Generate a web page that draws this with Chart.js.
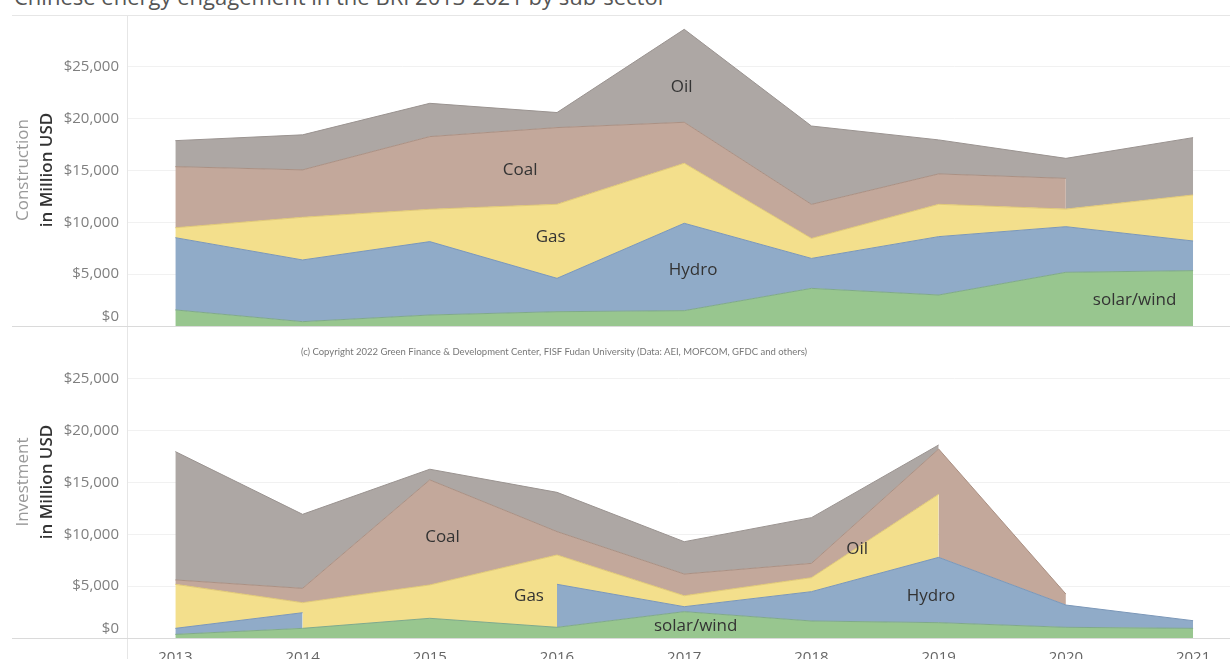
<!DOCTYPE html>
<html>
<head>
<meta charset="utf-8">
<script src="https://cdn.jsdelivr.net/npm/chart.js@4.4.1/dist/chart.umd.min.js"></script>
<style>
  body { margin: 0; width: 1230px; height: 659px; overflow: hidden; background: #fff; position: relative; font-family: "Open Sans", sans-serif; }
  canvas { position: absolute; left: 0; }
  #topChart { top: 0; }
  #botChart { top: 320px; }
  .title { position: absolute; left: 14px; top: -15px; font-size: 22px; line-height: 22px; color: #555; white-space: nowrap; }
  .rule { position: absolute; }
  .ytitle { position: absolute; left: -86px; width: 240px; height: 48px; transform: rotate(-90deg); text-align: center; line-height: 24px; }
  .ytitle .a { color: #999; font-size: 17px; display: block; }
  .ytitle .b { color: #333; font-size: 17px; font-weight: 600; display: block; }
  .copy { position: absolute; left: 0; width: 1108px; top: 346px; text-align: center; font-family: Lato, sans-serif; font-size: 9.5px; line-height: 12px; color: #777; }
</style>
</head>
<body>
<div class="title">Chinese energy engagement in the BRI 2013-2021 by sub-sector</div>

<canvas id="topChart" width="1230" height="340"></canvas>
<canvas id="botChart" width="1230" height="348"></canvas>

<!-- frame lines -->
<div class="rule" style="left:12px;top:15px;width:1218px;height:1px;background:#e6e6e6"></div>
<div class="rule" style="left:127px;top:15px;width:1px;height:644px;background:#e6e6e6"></div>
<div class="rule" style="left:12px;top:326px;width:1218px;height:1px;background:#dadada"></div>
<div class="rule" style="left:12px;top:638px;width:1218px;height:1px;background:#dadada"></div>

<div class="ytitle" style="top:146px"><span class="a">Construction</span><span class="b">in Million USD</span></div>
<div class="ytitle" style="top:458px"><span class="a">Investment</span><span class="b">in Million USD</span></div>

<div class="copy">(c) Copyright 2022 Green Finance &amp; Development Center, FISF Fudan University (Data: AEI, MOFCOM, GFDC and others)</div>

<script>
const years = [2013, 2014, 2015, 2016, 2017, 2018, 2019, 2020, 2021];
const sectors = ["solar/wind", "Hydro", "Gas", "Coal", "Oil"];

// Construction, million USD
const conSolar = [1550, 420, 1060, 1380, 1480, 3630, 2990, 5180, 5340];
const conHydro = [6970, 5950, 7080, 3220, 8430, 2890, 5630, 4400, 2860];
const conGas   = [960, 4120, 3120, 7140, 5790, 1930, 3120, 1700, 4440];
const conCoal  = [5890, 4570, 7010, 7400, 3950, 3280, 2930, 2960, null];
const conOil   = [2510, 3380, 3210, 1450, 8970, 7560, 3280, 1930, 5530];

// Investment, million USD
const invSolar = [350, 930, 1900, 1030, 2540, 1640, 1480, 1030, 930];
const invHydro = [580, 1510, null, 4150, 480, 2830, 6300, 2150, 740];
const invGas   = [4250, 970, 3220, 2830, 1060, 1350, 6080, null, null];
const invCoal  = [420, 1380, 10130, 2250, 2090, 1380, 4370, 1060, null];
const invOil   = [12380, 7140, 1030, 3790, 3120, 4410, 390, null, 870];

const yTicks = [0, 5000, 10000, 15000, 20000, 25000, 30000];

const fills   = ["#98c68f", "#90abc8", "#f3df8c", "#c3a89b", "#ada7a4"];
const borders = ["#7fa98a", "#7b97b8", "#e0c877", "#aa9083", "#9a9390"];

// text inside the areas (year / value where the label sits)
const conLabels = [
  { text: "Oil", year: 2016.98, value: 23050 },
  { text: "Coal", year: 2015.71, value: 15050 },
  { text: "Gas", year: 2015.95, value: 8590 },
  { text: "Hydro", year: 2017.07, value: 5400 },
  { text: "solar/wind", year: 2020.54, value: 2510 },
];
const invLabels = [
  { text: "Coal", year: 2015.10, value: 9740 },
  { text: "Gas", year: 2015.78, value: 4050 },
  { text: "solar/wind", year: 2017.09, value: 1160 },
  { text: "Oil", year: 2018.36, value: 8590 },
  { text: "Hydro", year: 2018.94, value: 4050 },
];

const areaLabels = {
  id: "areaLabels",
  afterDatasetsDraw(chart, args, opts) {
    const { ctx, scales: { x, y } } = chart;
    ctx.save();
    ctx.font = '17px "Open Sans"';
    ctx.fillStyle = "#333";
    ctx.textAlign = "center";
    ctx.textBaseline = "middle";
    opts.items.forEach(l => {
      ctx.fillText(l.text, x.getPixelForValue(l.year), y.getPixelForValue(l.value));
    });
    ctx.restore();
  }
};

function makeChart(id, series, labels, showX, pad) {
  const datasets = series.map((vals, i) => ({
    label: sectors[i],
    data: years.map((yr, j) => ({ x: yr, y: vals[j] })),
    backgroundColor: fills[i],
    borderColor: borders[i],
    borderWidth: 1,
    pointRadius: 0,
    tension: 0,
    fill: "stack",
  }));

  return new Chart(document.getElementById(id), {
    type: "line",
    data: { datasets },
    options: {
      responsive: false,
      animation: false,
      layout: { padding: pad },
      plugins: {
        legend: { display: false },
        tooltip: { enabled: false },
        areaLabels: { items: labels },
      },
      scales: {
        x: {
          type: "linear",
          display: showX,
          min: 2012.62,
          max: 2021.29,
          grid: { display: false },
          border: { display: false },
          afterBuildTicks: s => { s.ticks = years.map(v => ({ value: v })); },
          ticks: {
            padding: 3,
            color: "#666",
            font: { family: "Open Sans", size: 15 },
            callback: v => String(v),
          },
          afterFit: s => {
            s.height = showX ? 30 : 0;
            s.paddingLeft = 0;
            s.paddingRight = 0;
          },
        },
        y: {
          stacked: true,
          min: 0,
          max: 30000,
          afterBuildTicks: s => { s.ticks = yTicks.map(v => ({ value: v })); },
          ticks: {
            padding: 8,
            color: "#7f7f7f",
            font: { family: "Open Sans", size: 15 },
            callback: v => {
              if (v === 30000) return "";
              if (v === 0) return ["$0", ""]; // nudged up like the original
              return "$" + v.toLocaleString("en-US");
            },
          },
          grid: {
            drawTicks: false,
            color: c => (c.tick.value % 30000 === 0 ? "rgba(0,0,0,0)" : "#f1f1f1"),
          },
          border: { display: false },
          afterFit: s => { s.width = 127; s.paddingTop = 0; s.paddingBottom = 0; },
        },
      },
    },
    plugins: [areaLabels],
  });
}

makeChart("topChart", [conSolar, conHydro, conGas, conCoal, conOil], conLabels, false,
  { top: 15, bottom: 14, left: 0, right: 0 });
makeChart("botChart", [invSolar, invHydro, invGas, invCoal, invOil], invLabels, true,
  { top: 7, bottom: 0, left: 0, right: 0 });
</script>
</body>
</html>
